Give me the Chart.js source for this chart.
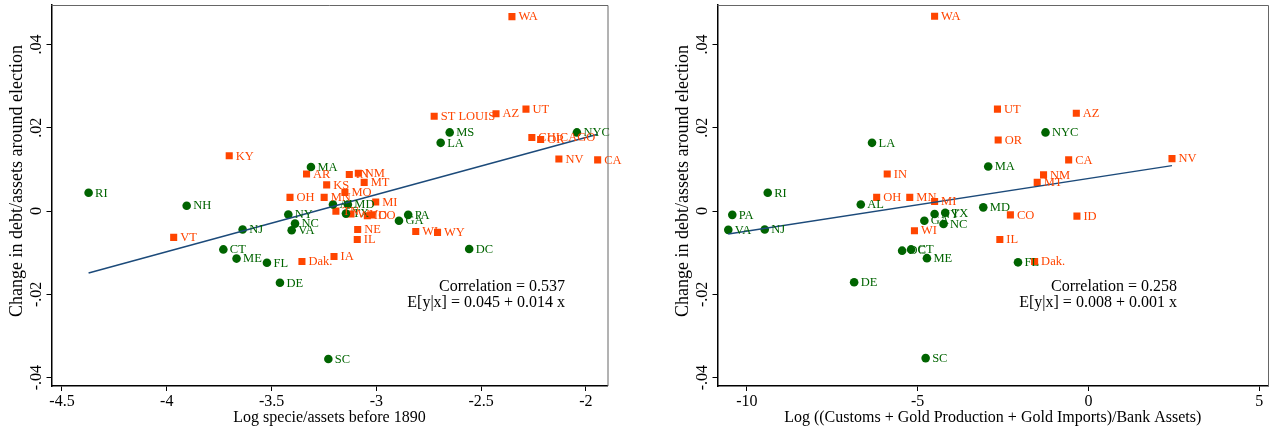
<!DOCTYPE html>
<html>
<head>
<meta charset="utf-8">
<script src="https://cdn.jsdelivr.net/npm/chart.js@4"></script>
<style>
  body { margin: 0; background: #fff; width: 1273px; height: 431px; overflow: hidden; position: relative; }
  canvas { position: absolute; top: 0; }
  #specie { left: 0; }
  #gold { left: 666px; }
</style>
</head>
<body>
<canvas id="specie" width="636" height="431"></canvas>
<canvas id="gold" width="607" height="431"></canvas>
<script>
const yTickValues = [-0.04, -0.02, 0, 0.02, 0.04];
const yTickLabels = ['-.04', '-.02', '0', '.02', '.04'];

// left panel: log specie/assets before 1890
const specieTickValues = [-4.5, -4, -3.5, -3, -2.5, -2];
const specieTickLabels = ['-4.5', '-4', '-3.5', '-3', '-2.5', '-2'];
const specieGreenStates = ['RI', 'NH', 'NJ', 'CT', 'ME', 'FL', 'DE', 'NY', 'NC', 'VA', 'MA', 'SC', 'AL', 'MD', 'TX', 'GA', 'PA', 'LA', 'MS', 'NYC', 'DC'];
const specieGreenX = [-4.373, -3.905, -3.638, -3.730, -3.667, -3.522, -3.460, -3.420, -3.388, -3.404, -3.312, -3.229, -3.207, -3.136, -3.145, -2.892, -2.848, -2.693, -2.650, -2.043, -2.557];
const specieGreenY = [0.0044, 0.0013, -0.0044, -0.0092, -0.0114, -0.0124, -0.0172, -0.0008, -0.0030, -0.0046, 0.0106, -0.0355, 0.0016, 0.0016, -0.0006, -0.0023, -0.0009, 0.0164, 0.0189, 0.0189, -0.0091];
const specieOrangeStates = ['WA', 'ST LOUIS', 'AZ', 'UT', 'CHICAGO', 'OR', 'NV', 'CA', 'KY', 'VT', 'AR', 'KS', 'OH', 'MN', 'MO', 'IN', 'NM', 'MT', 'MI', 'TN', 'WV', 'ID', 'CO', 'NE', 'IL', 'IA', 'Dak.', 'WI', 'WY'];
const specieOrangeX = [-2.353, -2.724, -2.429, -2.286, -2.258, -2.216, -2.129, -1.944, -3.702, -3.967, -3.333, -3.237, -3.412, -3.249, -3.150, -3.129, -3.086, -3.058, -3.003, -3.193, -3.121, -3.043, -3.022, -3.089, -3.091, -3.202, -3.355, -2.812, -2.708];
const specieOrangeY = [0.0467, 0.0228, 0.0234, 0.0245, 0.0177, 0.0172, 0.0125, 0.0123, 0.0133, -0.0063, 0.0089, 0.0063, 0.0033, 0.0033, 0.0045, 0.0088, 0.0091, 0.0069, 0.0022, 0.0000, -0.0007, -0.0011, -0.0009, -0.0044, -0.0068, -0.0109, -0.0121, -0.0049, -0.0051];
const specieFit = [0.0451, 0.01371];
const specieStats = ['Correlation = 0.537', 'E[y|x] = 0.045 + 0.014 x'];

// right panel: log gold inflows / bank assets
const goldTickValues = [-10, -5, 0, 5];
const goldTickLabels = ['-10', '-5', '0', '5'];
const goldGreenStates = ['PA', 'VA', 'RI', 'NJ', 'AL', 'LA', 'DE', 'SC', 'GA', 'NY', 'TX', 'NC', 'DC', 'CT', 'ME', 'MA', 'MD', 'FL', 'NYC'];
const goldGreenX = [-10.427, -10.544, -9.389, -9.477, -6.665, -6.336, -6.860, -4.766, -4.804, -4.504, -4.193, -4.243, -5.455, -5.193, -4.728, -2.934, -3.079, -2.062, -1.257];
const goldGreenY = [-0.0009, -0.0045, 0.0044, -0.0044, 0.0016, 0.0164, -0.0171, -0.0353, -0.0023, -0.0007, -0.0004, -0.0031, -0.0095, -0.0092, -0.0113, 0.0107, 0.0009, -0.0123, 0.0189];
const goldOrangeStates = ['WA', 'UT', 'OR', 'AZ', 'IN', 'OH', 'MN', 'MI', 'CA', 'NM', 'MT', 'CO', 'ID', 'WI', 'IL', 'Dak.', 'NV'];
const goldOrangeX = [-4.504, -2.664, -2.643, -0.355, -5.891, -6.200, -5.231, -4.504, -0.579, -1.314, -1.500, -2.285, -0.337, -5.094, -2.594, -1.576, 2.446];
const goldOrangeY = [0.0468, 0.0245, 0.0171, 0.0235, 0.0089, 0.0033, 0.0033, 0.0023, 0.0123, 0.0087, 0.0069, -0.0009, -0.0012, -0.0047, -0.0068, -0.0121, 0.0126];
const goldFit = [0.00783, 0.001266];
const goldStats = ['Correlation = 0.258', 'E[y|x] = 0.008 + 0.001 x'];

const GREEN = '#006400';
const ORANGE = '#ff4500';
const FIT = '#1c4a7a';
const SERIF = '"Liberation Serif", "Times New Roman", serif';

const decor = {
  id: 'decor',
  afterDatasetsDraw(chart) {
    const ctx = chart.ctx;
    ctx.save();
    ctx.font = '12.5px ' + SERIF;
    ctx.textAlign = 'left';
    ctx.textBaseline = 'middle';
    chart.data.datasets.forEach((ds, i) => {
      if (!ds.names) return;
      ctx.fillStyle = ds.backgroundColor;
      chart.getDatasetMeta(i).data.forEach((pt, j) => {
        ctx.fillText(ds.names[j], pt.x + 6.5, pt.y + 0.5);
      });
    });
    ctx.restore();
  },
  afterDraw(chart, args, opts) {
    const ctx = chart.ctx;
    const a = chart.chartArea;
    const xs = chart.scales.x, ys = chart.scales.y;
    ctx.save();
    // frame top and right
    ctx.strokeStyle = '#666';
    ctx.lineWidth = 1;
    ctx.beginPath();
    ctx.moveTo(a.left, a.top + 0.5);
    ctx.lineTo(a.right + 0.5, a.top + 0.5);
    ctx.lineTo(a.right + 0.5, a.bottom);
    ctx.stroke();
    // y tick labels, rotated
    ctx.fillStyle = '#000';
    ctx.font = '16px ' + SERIF;
    ctx.textAlign = 'center';
    ctx.textBaseline = 'middle';
    yTickValues.forEach((v, i) => {
      ctx.save();
      ctx.translate(a.left - 15, ys.getPixelForValue(v));
      ctx.rotate(-Math.PI / 2);
      ctx.fillText(yTickLabels[i], 0, 0);
      ctx.restore();
    });
    // y title
    ctx.save();
    ctx.font = '18px ' + SERIF;
    ctx.translate(17, 181);
    ctx.rotate(-Math.PI / 2);
    ctx.fillText('Change in debt/assets around election', 0, 0);
    ctx.restore();
    // stats
    ctx.textAlign = 'right';
    const sx = xs.getPixelForValue(opts.statX);
    opts.stats.forEach((s, i) => {
      ctx.fillText(s, sx, ys.getPixelForValue(opts.statY) + i * 16);
    });
    ctx.restore();
  }
};

function panel(id, p) {
  const allX = p.greenX.concat(p.orangeX);
  const x0 = Math.min(...allX), x1 = Math.max(...allX);
  const fitLine = [x0, x1].map(x => ({ x: x, y: p.fit[0] + p.fit[1] * x }));
  new Chart(document.getElementById(id), {
    type: 'scatter',
    data: {
      datasets: [
        { type: 'line', data: fitLine, borderColor: FIT, borderWidth: 1.5, pointRadius: 0, order: 0 },
        { data: p.greenX.map((x, i) => ({ x: x, y: p.greenY[i] })), names: p.greenStates,
          pointStyle: 'circle', pointRadius: 4.3, backgroundColor: GREEN, borderWidth: 0, order: 1 },
        { data: p.orangeX.map((x, i) => ({ x: x, y: p.orangeY[i] })), names: p.orangeStates,
          pointStyle: 'rect', pointRadius: 5, backgroundColor: ORANGE, borderWidth: 0, order: 2 }
      ]
    },
    options: {
      responsive: false,
      animation: false,
      events: [],
      layout: { padding: { top: 4, right: p.padRight, left: 0, bottom: 0 } },
      plugins: {
        legend: { display: false },
        tooltip: { enabled: false },
        decor: { stats: p.stats, statX: p.statX, statY: p.statY }
      },
      scales: {
        x: {
          type: 'linear', min: p.xMin, max: p.xMax,
          afterBuildTicks: s => { s.ticks = p.tickValues.map(v => ({ value: v })); },
          afterFit: s => { s.height = 45; },
          ticks: { color: '#000', font: { family: SERIF, size: 16 }, padding: 1, maxRotation: 0,
                   callback: (v, i) => p.tickLabels[i] },
          grid: { drawOnChartArea: false, drawTicks: true, tickLength: 5, tickColor: '#000' },
          border: { color: '#000', width: 1.5 },
          title: { display: true, text: p.xTitle, color: '#000', font: { family: SERIF, size: 16 },
                   padding: { top: 0, bottom: 4 } }
        },
        y: {
          type: 'linear', min: -0.042, max: 0.0495,
          afterBuildTicks: s => { s.ticks = yTickValues.map(v => ({ value: v })); },
          afterFit: s => { s.width = 51.5; },
          ticks: { display: false },
          grid: { drawOnChartArea: false, drawTicks: true, tickLength: 5, tickColor: '#000' },
          border: { color: '#000', width: 1.5 }
        }
      }
    },
    plugins: [decor]
  });
}

panel('specie', {
  greenX: specieGreenX, greenY: specieGreenY, greenStates: specieGreenStates,
  orangeX: specieOrangeX, orangeY: specieOrangeY, orangeStates: specieOrangeStates,
  fit: specieFit, stats: specieStats, statX: -2.10, statY: -0.0181,
  tickValues: specieTickValues, tickLabels: specieTickLabels,
  xMin: -4.55, xMax: -1.897, padRight: 28.5,
  xTitle: 'Log specie/assets before 1890'
});

panel('gold', {
  greenX: goldGreenX, greenY: goldGreenY, greenStates: goldGreenStates,
  orangeX: goldOrangeX, orangeY: goldOrangeY, orangeStates: goldOrangeStates,
  fit: goldFit, stats: goldStats, statX: 2.59, statY: -0.0181,
  tickValues: goldTickValues, tickLabels: goldTickLabels,
  xMin: -10.86, xMax: 5.257, padRight: 1.3,
  xTitle: 'Log ((Customs + Gold Production + Gold Imports)/Bank Assets)'
});
</script>
</body>
</html>
